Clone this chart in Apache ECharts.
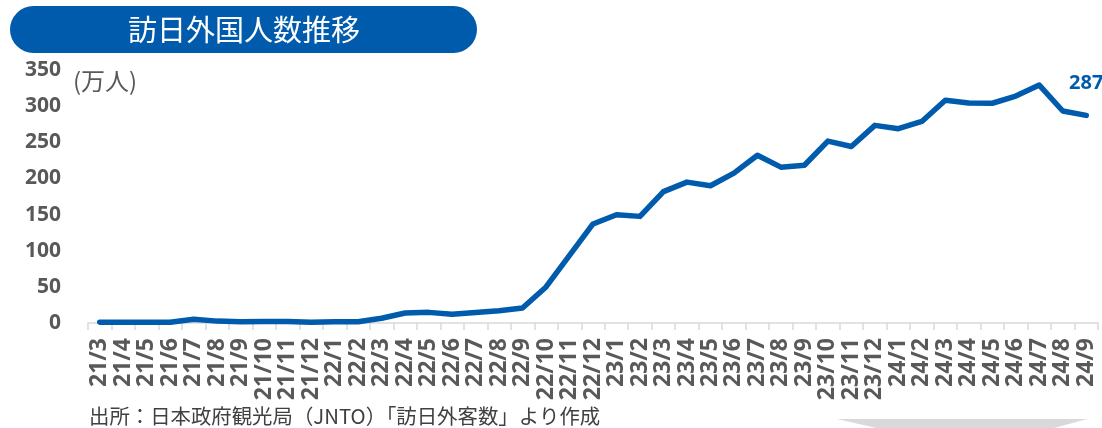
<!DOCTYPE html>
<html>
<head>
<meta charset="utf-8">
<script src="https://cdn.jsdelivr.net/npm/echarts@6/dist/echarts.min.js"></script>
<style>
html,body{margin:0;padding:0;background:#fff;}
#c{width:1102px;height:428px;}
</style>
</head>
<body>
<div id="c"></div>
<script>
const categories = ['21/3','21/4','21/5','21/6','21/7','21/8','21/9','21/10','21/11','21/12',
  '22/1','22/2','22/3','22/4','22/5','22/6','22/7','22/8','22/9','22/10','22/11','22/12',
  '23/1','23/2','23/3','23/4','23/5','23/6','23/7','23/8','23/9','23/10','23/11','23/12',
  '24/1','24/2','24/3','24/4','24/5','24/6','24/7','24/8','24/9'];
const visitors = [1.2,1.1,1.0,0.9,5.1,2.6,1.8,2.2,2.1,1.2,
  1.7,1.7,6.6,13.9,14.7,12.0,14.4,16.9,20.7,49.9,93.5,137.0,
  149.7,147.5,181.8,194.9,189.9,207.3,232.0,215.6,218.2,251.7,244.1,273.4,
  268.8,278.8,308.2,304.3,304.0,314.0,329.2,293.3,287.2];
const yTicks = [0,50,100,150,200,250,300,350];
const titleText = '訪日外国人数推移';
const unitText = '(万人)';
const sourceText = '出所：日本政府観光局（JNTO）「訪日外客数」より作成';
const endLabel = '287';

const chart = echarts.init(document.getElementById('c'), null, {renderer:'canvas'});
const blue = '#005bac';
const lastIdx = visitors.length - 1;
chart.setOption({
  animation:false,
  grid:{left:88,right:4,top:70,bottom:105,containLabel:false,outerBoundsMode:'none'},
  xAxis:{
    type:'category',
    data:categories,
    boundaryGap:true,
    axisLine:{show:true,lineStyle:{color:'#d9d9d9',width:1.5}},
    axisTick:{show:true,length:7,lineStyle:{color:'#d9d9d9',width:1.5}},
    axisLabel:{interval:0,rotate:90,margin:15,color:'#595959',fontSize:23,fontWeight:'bold',fontFamily:'"Noto Sans", sans-serif'},
    splitLine:{show:false}
  },
  yAxis:{
    type:'value',
    min:yTicks[0],
    max:yTicks[yTicks.length-1],
    interval:yTicks[1]-yTicks[0],
    axisLine:{show:false},
    axisTick:{show:false},
    splitLine:{show:false},
    axisLabel:{margin:27,color:'#595959',fontSize:21,fontWeight:'bold',fontFamily:'"Noto Sans", sans-serif'}
  },
  series:[{
    type:'line',
    data:visitors.map((v,i)=> i===lastIdx ? {value:v,label:{show:true,formatter:endLabel}} : v),
    showSymbol:true,
    symbol:'circle',
    symbolSize:1,
    lineStyle:{color:blue,width:5.5,cap:'round',join:'round'},
    itemStyle:{color:'rgba(0,0,0,0)'},
    label:{show:false,position:'top',distance:22,color:blue,fontSize:20,fontWeight:'bold',fontFamily:'"Noto Sans", sans-serif'}
  }],
  graphic:[
    {type:'rect',shape:{x:10,y:6,width:467,height:47,r:23.5},style:{fill:blue},z:10},
    {type:'text',x:244,y:30,style:{text:titleText,fill:'#fff',fontSize:29,fontFamily:'"Noto Sans CJK JP", sans-serif',align:'center',verticalAlign:'middle'},z:11},
    {type:'text',x:73,y:81,style:{text:unitText,fill:'#595959',fontSize:24,fontFamily:'"Noto Sans CJK JP", sans-serif',align:'left',verticalAlign:'middle'},z:11},
    {type:'text',x:89,y:416,style:{text:sourceText,fill:'#404040',fontSize:20.4,fontFamily:'"Noto Sans CJK JP", sans-serif',align:'left',verticalAlign:'middle'},z:11},
    {type:'polygon',shape:{points:[[837,419],[1087,419],[1047,430],[885,430]]},style:{fill:'#d9d9d9'},z:1}
  ]
});
</script>
</body>
</html>
